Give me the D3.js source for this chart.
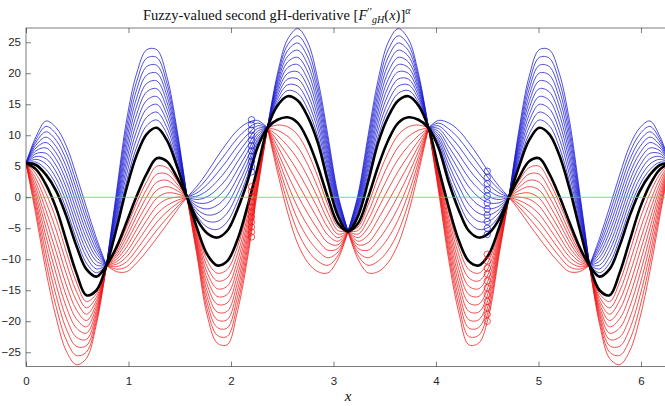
<!DOCTYPE html>
<html lang="en">
<head>
<meta charset="UTF-8">
<title>second gH-derivative</title>
<script src="https://cdn.jsdelivr.net/npm/d3@7"></script>
<style>
    body{ margin:0; background:#fff; }
    svg{ display:block; }
    .tick text{ font-family: "Liberation Sans", Arial, sans-serif; font-size: 11.5px; fill:#262626; }
    .tick line{ stroke:#262626; stroke-width:0.6; }
</style>
</head>
<body>
<svg id="fig" width="665" height="406"></svg>
<script>
// sample points along x, one every pi/32 (crossings sit on every 8th point)
let xs = [0, 0.098, 0.196, 0.295, 0.393, 0.491, 0.589, 0.687, 0.785, 0.884, 0.982, 1.080, 1.178, 1.276, 1.374, 1.473,
          1.571, 1.669, 1.767, 1.865, 1.963, 2.062, 2.160, 2.258, 2.356, 2.454, 2.553, 2.651, 2.749, 2.847, 2.945, 3.043,
          3.142, 3.240, 3.338, 3.436, 3.534, 3.632, 3.731, 3.829, 3.927, 4.025, 4.123, 4.221, 4.320, 4.418, 4.516, 4.614,
          4.712, 4.811, 4.909, 5.007, 5.105, 5.203, 5.301, 5.400, 5.498, 5.596, 5.694, 5.792, 5.890, 5.989, 6.087, 6.185, 6.283]

// alpha = 1 curves (black)
let coreP = [5.5, 4.5, 2.0, -1.8, -7.0, -12.2, -15.8, -15.0, -11.0, -5.0, 1.5, 6.8, 10.2, 11.2, 9.2, 5.0,
             0, -5.0, -9.2, -11.0, -10.3, -6.9, -1.5, 4.7, 11.2, 14.8, 16.3, 15.6, 13.0, 8.8, 2.5, -3.0,
             -5.5, -3.0, 2.5, 8.8, 13.0, 15.6, 16.3, 14.8, 11.2, 4.7, -1.5, -6.9, -10.3, -11.0, -9.2, -5.0,
             0, 5.0, 9.2, 11.2, 10.2, 6.8, 1.5, -5.0, -11.0, -15.0, -15.8, -12.2, -7.0, -1.8, 2.0, 4.5, 5.5]
let coreQ = [5.5, 5.2, 3.6, 1.0, -3.0, -7.8, -11.6, -12.8, -11.0, -8.0, -4.0, 0.2, 3.8, 6.3, 5.8, 3.2,
             0, -3.6, -5.8, -6.5, -5.4, -2.0, 2.5, 8.0, 11.2, 12.5, 12.9, 12.0, 9.2, 5.0, 0, -4.2,
             -5.5, -4.2, 0, 5.0, 9.2, 12.0, 12.9, 12.5, 11.2, 8.0, 2.5, -2.0, -5.4, -6.5, -5.8, -3.6,
             0, 3.2, 5.8, 6.3, 3.8, 0.2, -4.0, -8.0, -11.0, -12.8, -11.6, -7.8, -3.0, 1.0, 3.6, 5.2, 5.5]

// alpha = 0 curves (outermost blue = upper end, outermost red = lower end)
let upper0 = [5.5, 9.8, 12.3, 11.2, 8.3, 3.6, -1.6, -6.6, -11.0, 1.0, 12.5, 20.0, 23.8, 23.8, 19.5, 11.0,
              0, 1.8, 4.0, 6.5, 8.8, 10.8, 12.0, 12.4, 11.2, 20.0, 25.5, 27.2, 25.0, 19.0, 10.0, 0.5,
              -5.5, 0.5, 10.0, 19.0, 25.0, 27.2, 25.5, 20.0, 11.2, 12.4, 12.0, 10.8, 8.8, 6.5, 4.0, 1.8,
              0, 11.0, 19.5, 23.8, 23.8, 20.0, 12.5, 1.0, -11.0, -6.6, -1.6, 3.6, 8.3, 11.2, 12.3, 9.8, 5.5]
let lower0 = [5.5, -3.0, -12.0, -19.5, -24.8, -27.0, -26.0, -20.5, -11.0, -12.0, -12.0, -10.6, -8.7, -6.6, -4.4, -2.1,
              0, -9.5, -19.0, -23.5, -23.8, -18.5, -10.0, 1.0, 11.2, 4.0, -2.5, -7.5, -10.5, -12.0, -12.2, -10.0,
              -5.5, -10.0, -12.2, -12.0, -10.5, -7.5, -2.5, 4.0, 11.2, 1.0, -10.0, -18.5, -23.8, -23.5, -19.0, -9.5,
              0, -2.1, -4.4, -6.6, -8.7, -10.6, -12.0, -12.0, -11.0, -20.5, -26.0, -27.0, -24.8, -19.5, -12.0, -3.0, 5.5]

let alphas = [0, 0.1, 0.2, 0.3, 0.4, 0.5, 0.6, 0.7, 0.8, 0.9]

// switching points marked with circles
let markX = [2.2, 4.5]
let markUpper = [[12.5, 11.7, 10.8, 10.0, 9.2, 8.3, 7.5, 6.6, 5.8, 4.9, 4.1],
                 [4.2, 3.2, 2.2, 1.2, 0.2, -0.9, -1.9, -2.9, -3.9, -5.0, -6.0]]
let markLower = [[-6.4, -5.6, -4.8, -4.0, -3.2, -2.4, -1.6, -0.8, 0.1, 0.9, 1.7],
                 [-20.0, -18.9, -17.8, -16.8, -15.7, -14.6, -13.5, -12.4, -11.4, -10.3, -9.2]]

let xTicks = [0, 1, 2, 3, 4, 5, 6]
let yTicks = [-25, -20, -15, -10, -5, 0, 5, 10, 15, 20, 25]

let svg = d3.select("#fig")
let boxL = 26, boxR = 670, boxT = 28, boxB = 366.5

let x = d3.scaleLinear().domain([0, 6.2832]).range([boxL, boxR])
let y = d3.scaleLinear().domain([-27.3, 27.3]).range([boxB, boxT])

svg.append("defs").append("clipPath").attr("id", "clip")
    .append("rect").attr("x", boxL).attr("y", boxT).attr("width", boxR - boxL).attr("height", boxB - boxT)

let plot = svg.append("g").attr("clip-path", "url(#clip)")

// blend between the alpha=1 envelope and the alpha=0 curve
function level(outer, inner, a) {
    return outer.map((v, i) => inner[i] + (1 - a) * (v - inner[i]))
}
let hi = coreP.map((v, i) => Math.max(v, coreQ[i]))
let lo = coreP.map((v, i) => Math.min(v, coreQ[i]))

let line = d3.line().x(d => x(d[0])).y(d => y(d[1])).curve(d3.curveCatmullRom.alpha(0.5))

// draw in pieces between crossings so the corners stay sharp
function pieces(vals) {
    let out = []
    for (let s = 0; s < 8; s++) {
        let seg = []
        for (let i = s * 8; i <= s * 8 + 8; i++) seg.push([xs[i], vals[i]])
        out.push(seg)
    }
    return out
}

let blue = "#1414d2", red = "#f01414"

alphas.forEach(a => {
    pieces(level(upper0, hi, a)).forEach(seg => {
        plot.append("path").attr("d", line(seg)).attr("fill", "none")
            .attr("stroke", blue).attr("stroke-width", 0.75)
    })
})
alphas.forEach(a => {
    pieces(level(lower0, lo, a)).forEach(seg => {
        plot.append("path").attr("d", line(seg)).attr("fill", "none")
            .attr("stroke", red).attr("stroke-width", 0.75)
    })
})

;[coreP, coreQ].forEach(c => {
    plot.append("path").attr("d", line(xs.map((v, i) => [v, c[i]]))).attr("fill", "none")
        .attr("stroke", "#000").attr("stroke-width", 2.6)
})

// zero line
plot.append("line").attr("x1", x(0)).attr("x2", x(6.2832)).attr("y1", y(0)).attr("y2", y(0))
    .attr("stroke", "#4fdc4f").attr("stroke-width", 0.8)

markX.forEach((mx, j) => {
    plot.selectAll(null).data(markUpper[j]).enter().append("circle")
        .attr("cx", x(mx)).attr("cy", d => y(d)).attr("r", 3.2)
        .attr("fill", "none").attr("stroke", blue).attr("stroke-width", 0.7)
    plot.selectAll(null).data(markLower[j]).enter().append("circle")
        .attr("cx", x(mx)).attr("cy", d => y(d)).attr("r", 3.2)
        .attr("fill", "none").attr("stroke", red).attr("stroke-width", 0.7)
})

// axes box with inward ticks
svg.append("g").attr("transform", `translate(0,${boxB})`)
    .call(d3.axisBottom(x).tickValues(xTicks).tickFormat(d3.format("d")).tickSize(-5).tickPadding(10))
    .call(g => g.select(".domain").remove())
svg.append("g").attr("transform", `translate(0,${boxT})`)
    .call(d3.axisTop(x).tickValues(xTicks).tickSize(-5).tickFormat(""))
    .call(g => g.select(".domain").remove())
svg.append("g").attr("transform", `translate(${boxL},0)`)
    .call(d3.axisLeft(y).tickValues(yTicks).tickSize(-5).tickPadding(5))
    .call(g => g.select(".domain").remove())
svg.append("rect").attr("x", boxL).attr("y", boxT).attr("width", boxR - boxL).attr("height", boxB - boxT)
    .attr("fill", "none").attr("stroke", "#262626").attr("stroke-width", 0.6)

// title
let t = svg.append("text").attr("x", 143).attr("y", 20)
    .style("font-family", "'Liberation Serif', 'DejaVu Serif', serif").style("font-size", "14.5px").attr("fill", "#111")
t.append("tspan").text("Fuzzy-valued second gH-derivative [")
t.append("tspan").style("font-style", "italic").text("F")
t.append("tspan").attr("dy", -5).style("font-size", "11px").text("\u2032\u2032")
t.append("tspan").attr("dx", 0).attr("dy", 8).style("font-size", "10px").style("font-style", "italic").text("gH")
t.append("tspan").attr("dy", -3).text("(")
t.append("tspan").style("font-style", "italic").text("x")
t.append("tspan").text(")]")
t.append("tspan").attr("dy", -6).style("font-size", "10px").style("font-style", "italic").text("\u03b1")

svg.append("text").attr("x", 348).attr("y", 401).attr("text-anchor", "middle")
    .style("font-family", "'Liberation Serif', 'DejaVu Serif', serif").style("font-size", "15px")
    .style("font-style", "italic").attr("fill", "#111").text("x")
</script>
</body>
</html>
